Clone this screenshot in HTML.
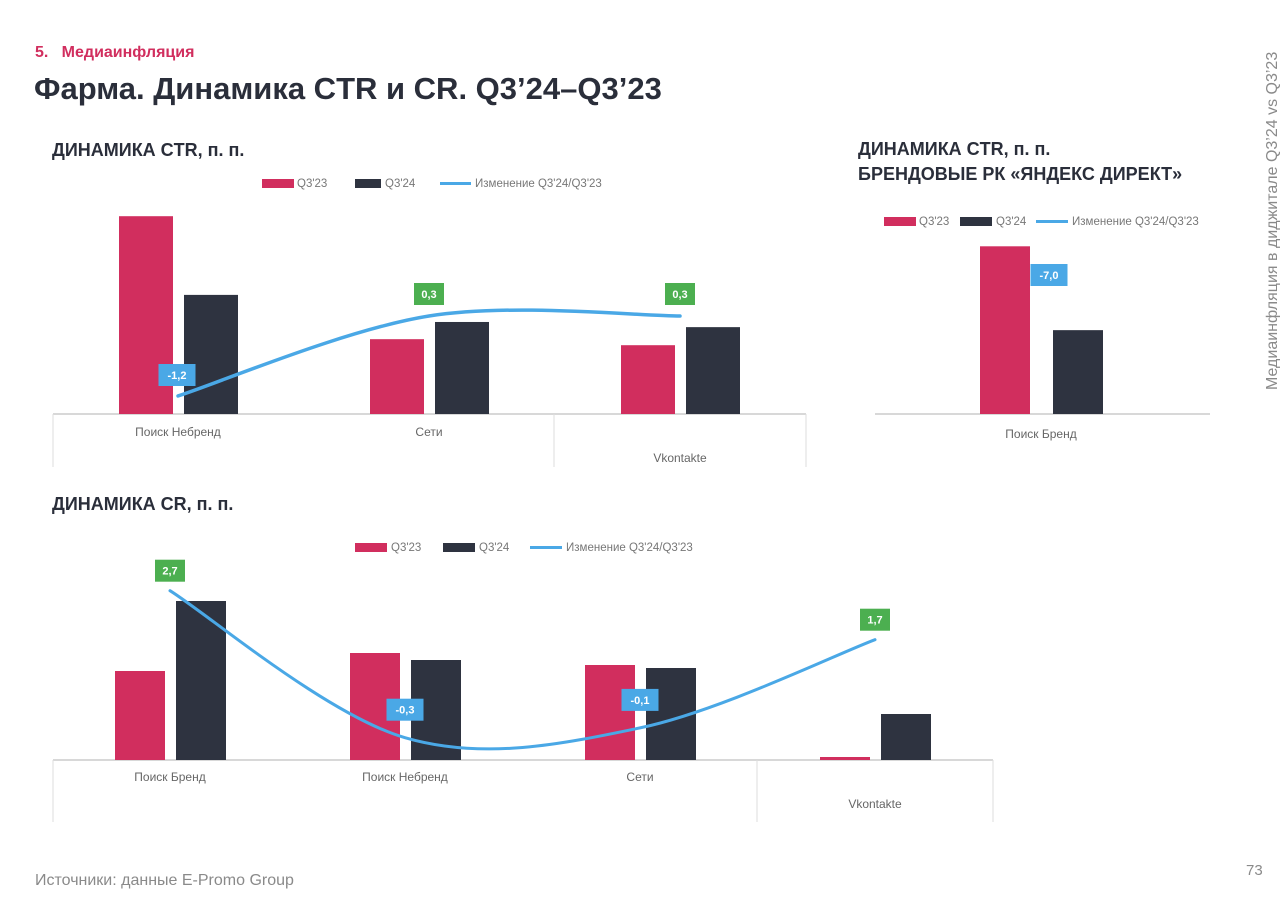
<!DOCTYPE html>
<html><head><meta charset="utf-8"><style>
body{margin:0;width:1280px;height:900px;background:#fff;font-family:"Liberation Sans",sans-serif;overflow:hidden;position:relative}
.a{position:absolute;white-space:nowrap}
svg{position:absolute;left:0;top:0}
</style></head><body>
<div class="a" style="left:35px;top:44px;font-size:16px;font-weight:bold;color:#d12e5e">5.&nbsp;&nbsp;&nbsp;Медиаинфляция</div>
<div class="a" style="left:34px;top:71px;font-size:31px;font-weight:bold;color:#2a2e3a">Фарма. Динамика CTR и CR. Q3’24–Q3’23</div>
<div class="a" style="left:52px;top:140px;font-size:18px;font-weight:bold;color:#2a2e3a">ДИНАМИКА CTR, п. п.</div>
<div class="a" style="left:858px;top:137px;font-size:18px;font-weight:bold;color:#2a2e3a;line-height:25px">ДИНАМИКА CTR, п. п.<br>БРЕНДОВЫЕ РК «ЯНДЕКС ДИРЕКТ»</div>
<div class="a" style="left:52px;top:494px;font-size:18px;font-weight:bold;color:#2a2e3a">ДИНАМИКА CR, п. п.</div>
<div class="a" style="left:1264px;top:44px;transform-origin:0 0;transform:rotate(-90deg) translateX(-346px);font-size:16px;color:#8a8a8a">Медиаинфляция в диджитале Q3’24 vs Q3’23</div>
<div class="a" style="left:35px;top:872px;font-size:16px;color:#8a8a8a">Источники: данные E-Promo Group</div>
<div class="a" style="left:1246px;top:862px;font-size:15px;color:#8a8a8a">73</div>
<svg id="s" width="1280" height="900"></svg>
<script>
// CTR chart data
const ctrCats=["Поиск Небренд","Сети","Vkontakte"];
const ctrQ23=[4.6,1.74,1.6];
const ctrQ24=[2.77,2.14,2.02];
const ctrChange=[-1.2,0.3,0.3];
const ctrChangeLabels=["-1,2","0,3","0,3"];
// Brand chart data
const brCats=["Поиск Бренд"];
const brQ23=[3.9];
const brQ24=[1.95];
const brChangeLabels=["-7,0"];
// CR chart data
const crCats=["Поиск Бренд","Поиск Небренд","Сети","Vkontakte"];
const crQ23=[1.78,2.14,1.9,0.06];
const crQ24=[3.18,2.0,1.84,0.92];
const crChange=[2.7,-0.3,-0.1,1.7];
const crChangeLabels=["2,7","-0,3","-0,1","1,7"];

const P="#d12e5e",D="#2e3340",B="#4aa8e6",G="#4caf50";
const s=document.getElementById('s');const NS="http://www.w3.org/2000/svg";
function el(t,a,txt){const e=document.createElementNS(NS,t);for(const k in a)e.setAttribute(k,a[k]);if(txt!==undefined)e.textContent=txt;s.appendChild(e);return e;}
function legend(x,y,tag,o){
  let r=el('rect',{x:x,y:y-4,width:32,height:9,fill:P});
  
  el('text',{x:x+o[0],y:y+4,'font-size':11.5,fill:'#777'},"Q3'23");
  r=el('rect',{x:x+o[1],y:y-4,width:o[2]-o[1]-4,height:9,fill:D});
  
  el('text',{x:x+o[2],y:y+4,'font-size':11.5,fill:'#777'},"Q3'24");
  r=el('rect',{x:x+o[3],y:y-1,width:o[4]-o[3]-4,height:3,fill:B});
  
  el('text',{x:x+o[4],y:y+4,'font-size':11.5,fill:'#777'},"Изменение Q3'24/Q3'23");
}
function badge(cx,cy,txt,col,tag){
  const w=txt.length*7+9;
  const r=el('rect',{x:cx-w/2,y:cy-11,width:w,height:22,fill:col});
  
  el('text',{x:cx,y:cy+4,'font-size':11,'font-weight':'bold',fill:'#fff','text-anchor':'middle'},txt);
}
function spline(pts){
  let d="M"+pts[0][0]+","+pts[0][1];
  for(let i=0;i<pts.length-1;i++){
    const p0=pts[i-1]||pts[i],p1=pts[i],p2=pts[i+1],p3=pts[i+2]||p2;
    const c1=[p1[0]+(p2[0]-p0[0])/6,p1[1]+(p2[1]-p0[1])/6],c2=[p2[0]-(p3[0]-p1[0])/6,p2[1]-(p3[1]-p1[1])/6];
    d+=" C"+c1+" "+c2+" "+p2;
  }
  return d;
}
// CTR
legend(262,183,'ctr',[35,93,123,178,213]);
(function(){
  const base=414,k=43,x0=178,step=251,bw=54;
  const yL=v=>332-v*53.3;
  el('line',{x1:53,y1:base,x2:806,y2:base,stroke:'#ccc','stroke-width':1.5});
  [53,554,806].forEach(x=>el('line',{x1:x,y1:base,x2:x,y2:467,stroke:'#ddd'}));
  const pts=[];
  ctrCats.forEach((c,i)=>{
    const cx=x0+i*step;
    let r=el('rect',{x:cx-59,y:base-ctrQ23[i]*k,width:bw,height:ctrQ23[i]*k,fill:P});
    
    r=el('rect',{x:cx+6,y:base-ctrQ24[i]*k,width:bw,height:ctrQ24[i]*k,fill:D});
    
    el('text',{x:cx,y:i==2?462:436,'font-size':12,fill:'#666','text-anchor':'middle'},c);
    pts.push([cx,yL(ctrChange[i])]);
  });
  const l=el('path',{d:spline(pts),fill:'none',stroke:B,'stroke-width':3.5,'stroke-linecap':'round'});
  
  pts.forEach((p,i)=>badge(i==0?177:p[0],i==0?375:294,ctrChangeLabels[i],ctrChange[i]<0?B:G,'ctr-change-label'));
})();
// Brand
legend(884,221,'brand',[35,76,112,152,188]);
(function(){
  const base=414,k=43,cx=1041;
  el('line',{x1:875,y1:base,x2:1210,y2:base,stroke:'#ccc','stroke-width':1.5});
  let r=el('rect',{x:980,y:base-brQ23[0]*k,width:50,height:brQ23[0]*k,fill:P});
  
  r=el('rect',{x:1053,y:base-brQ24[0]*k,width:50,height:brQ24[0]*k,fill:D});
  
  el('text',{x:cx,y:438,'font-size':12,fill:'#666','text-anchor':'middle'},brCats[0]);
  badge(1049,275,brChangeLabels[0],B,'brand-change-label');
})();
// CR
legend(355,547,'cr',[36,88,124,175,211]);
(function(){
  const base=760,k=50,x0=170,step=235,bw=50;
  const yL=v=>723-v*49;
  el('line',{x1:53,y1:base,x2:993,y2:base,stroke:'#ccc','stroke-width':1.5});
  [53,757,993].forEach(x=>el('line',{x1:x,y1:base,x2:x,y2:822,stroke:'#ddd'}));
  const pts=[];
  crCats.forEach((c,i)=>{
    const cx=x0+i*step;
    let r=el('rect',{x:cx-55,y:base-crQ23[i]*k,width:bw,height:crQ23[i]*k,fill:P});
    
    r=el('rect',{x:cx+6,y:base-crQ24[i]*k,width:bw,height:crQ24[i]*k,fill:D});
    
    el('text',{x:cx,y:i==3?808:781,'font-size':12,fill:'#666','text-anchor':'middle'},c);
    pts.push([cx,yL(crChange[i])]);
  });
  const l=el('path',{d:spline(pts),fill:'none',stroke:B,'stroke-width':3,'stroke-linecap':'round'});
  
  pts.forEach((p,i)=>badge(p[0],crChange[i]<0?p[1]-28:p[1]-20,crChangeLabels[i],crChange[i]<0?B:G,'cr-change-label'));
})();
</script>
</body></html>
